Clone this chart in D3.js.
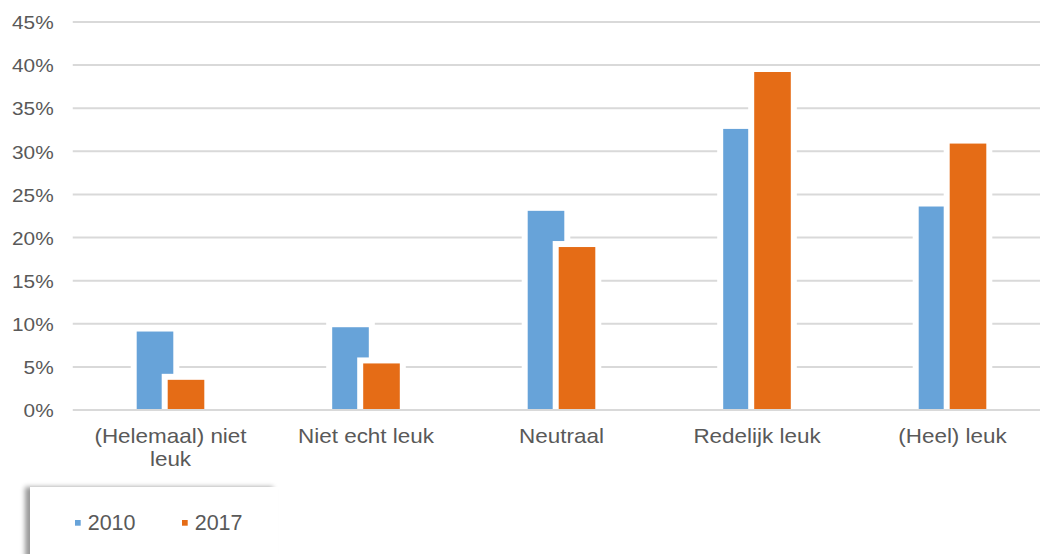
<!DOCTYPE html>
<html>
<head>
<meta charset="utf-8">
<script src="https://cdn.jsdelivr.net/npm/d3@7"></script>
<style>
  body { margin: 0; background: #fff; }
  svg { display: block; font-family: "Liberation Sans", Arial, sans-serif; }
  .grid line { stroke: #d9d9d9; stroke-width: 2; }
  .tick text { fill: #595959; }
</style>
</head>
<body>
<script>
var categories = ["(Helemaal) niet leuk", "Niet echt leuk", "Neutraal", "Redelijk leuk", "(Heel) leuk"];
var seriesNames = ["2010", "2017"];
var values2010 = [0.091, 0.096, 0.231, 0.326, 0.236];
var values2017 = [0.035, 0.054, 0.189, 0.392, 0.309];
var yTicks = [0, 0.05, 0.10, 0.15, 0.20, 0.25, 0.30, 0.35, 0.40, 0.45];
var colors = {"2010": "#67a3d9", "2017": "#e56c16"};

var width = 1040, height = 554;
var barW = 36.6, halo = 6;

// split a label over lines like Excel does
var wrap = function(textSel, maxW){
    textSel.each(function(){
        var text = d3.select(this);
        var words = text.text().split(" ");
        var y = text.attr("y");
        text.text(null);
        var line = [], lineNo = 0;
        var tspan = text.append("tspan").attr("x", 0).attr("y", y).attr("dy", "0.71em");
        words.forEach(function(w){
            line.push(w);
            tspan.text(line.join(" "));
            if (tspan.node().getComputedTextLength() > maxW && line.length > 1) {
                line.pop();
                tspan.text(line.join(" "));
                line = [w];
                lineNo++;
                tspan = text.append("tspan").attr("x", 0).attr("y", y)
                    .attr("dy", (0.71 + lineNo * 1.1) + "em").text(w);
            }
        });
    });
}

var loadGraph = function(){
    var svg = d3.select("body").append("svg")
        .attr("width", width)
        .attr("height", height);

    var xScale = d3.scaleBand().domain(categories).range([72.75, 1050.25]).padding(0);
    var sScale = d3.scalePoint().domain(seriesNames).range([-15.5, 15.5]);
    var yScale = d3.scaleLinear().domain([0, 0.45]).range([410, 22]);

    // gridlines
    svg.append("g").attr("class", "grid")
        .selectAll("line").data(yTicks.slice(1)).enter().append("line")
        .attr("x1", 72.75).attr("x2", width)
        .attr("y1", function(d){ return yScale(d); })
        .attr("y2", function(d){ return yScale(d); });

    // y labels
    var yAxis = d3.axisLeft(yScale).tickValues(yTicks).tickFormat(d3.format(".0%")).tickSize(0).tickPadding(0);
    var yg = svg.append("g")
        .attr("transform", "translate(53.7,0)")
        .call(yAxis);
    yg.select(".domain").remove();
    yg.selectAll(".tick text")
        .style("font-size", "18.6px")
        .attr("x", 0).attr("dy", "0.36em")
        .attr("transform", "scale(1.12,1)");

    // bars with white halo
    var data = [];
    categories.forEach(function(c, i){
        data.push({cat: c, s: "2010", v: values2010[i]});
        data.push({cat: c, s: "2017", v: values2017[i]});
    });
    var bars = svg.append("g").selectAll("g").data(data).enter().append("g");
    bars.append("rect")
        .attr("fill", "#fff")
        .attr("x", function(d){ return xScale(d.cat) + xScale.bandwidth()/2 + sScale(d.s) - barW/2 - halo; })
        .attr("y", function(d){ return yScale(d.v) - halo; })
        .attr("width", barW + 2*halo)
        .attr("height", function(d){ return yScale(0) - yScale(d.v) + halo; });
    bars.append("rect")
        .attr("fill", function(d){ return colors[d.s]; })
        .attr("x", function(d){ return xScale(d.cat) + xScale.bandwidth()/2 + sScale(d.s) - barW/2; })
        .attr("y", function(d){ return yScale(d.v); })
        .attr("width", barW)
        .attr("height", function(d){ return yScale(0) - yScale(d.v); });

    // baseline
    svg.append("line")
        .attr("x1", 72.75).attr("x2", width)
        .attr("y1", yScale(0)).attr("y2", yScale(0))
        .attr("stroke", "#d9d9d9").attr("stroke-width", 2);

    // category labels
    var xAxis = d3.axisBottom(xScale).tickSize(0).tickPadding(19);
    var xg = svg.append("g")
        .attr("transform", "translate(0," + yScale(0) + ")")
        .call(xAxis);
    xg.select(".domain").remove();
    xg.selectAll(".tick text")
        .style("font-size", "20.4px")
        .attr("transform", "scale(1.1,1)")
        .call(wrap, 150);

    // legend
    var defs = svg.append("defs");
    var f = defs.append("filter").attr("id", "shadow")
        .attr("x", "-10%").attr("y", "-20%").attr("width", "130%").attr("height", "150%");
    f.append("feDropShadow").attr("dx", -5).attr("dy", 0).attr("stdDeviation", 2.5)
        .attr("flood-color", "#000").attr("flood-opacity", 0.4);
    svg.append("rect")
        .attr("x", 30).attr("y", 487).attr("width", 248).attr("height", 80)
        .attr("fill", "#fff").attr("filter", "url(#shadow)");

    var legend = svg.append("g").selectAll("g").data(seriesNames).enter().append("g")
        .attr("transform", function(d, i){ return "translate(" + (75 + i*107) + ",520)"; });
    legend.append("rect").attr("width", 5.7).attr("height", 5.7)
        .attr("fill", function(d){ return colors[d]; });
    legend.append("text").attr("x", 12.7).attr("y", 10)
        .attr("fill", "#595959").style("font-size", "21.5px")
        .text(function(d){ return d; });
}

window.onload = loadGraph;
</script>
</body>
</html>
